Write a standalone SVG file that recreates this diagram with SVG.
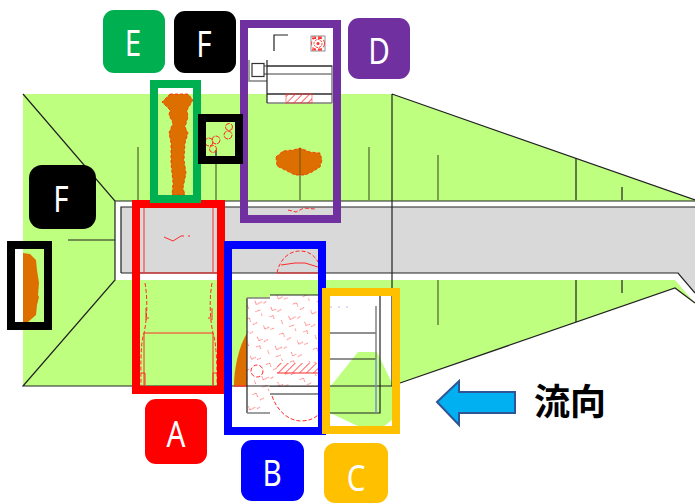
<svg xmlns="http://www.w3.org/2000/svg" width="695" height="503" viewBox="0 0 695 503">
<style>
.ln{fill:none;stroke:#222;stroke-width:1.2}
.gl{fill:none;stroke:#5c7a3c;stroke-width:1.4}
.gy{fill:none;stroke:#808080;stroke-width:1.5}
.rd{fill:none;stroke:#ff2a2a;stroke-width:1}
.rdd{fill:none;stroke:#ff2a2a;stroke-width:1;stroke-dasharray:4 2}
.org{fill:#dc6f00;stroke:#ff2a00;stroke-width:.8;stroke-dasharray:3 2}
.fr{fill:none;stroke-width:8}
.lb{font-family:"Noto Sans","DejaVu Sans",sans-serif;font-size:37px;fill:#fff;text-anchor:middle}
</style>
<defs>
<pattern id="vs" width="37" height="33" patternUnits="userSpaceOnUse" patternTransform="rotate(24)">
<path d="M2 5l3 3 3-3M13 3l-3 4M22 6l3 3 4-5M33 2l-2 3M5 15l3-3 2 3M17 13l3 3M27 16l4-4M35 17l-2-2M3 25l3 3 3-4M14 23l-3 3M21 27l3-3 3 3M33 25l-3 4" fill="none" stroke="#ff4b4b" stroke-width="1" opacity=".7"/>
</pattern>
<pattern id="hh" width="5" height="5" patternUnits="userSpaceOnUse" patternTransform="rotate(45)">
<path d="M0 0v5" stroke="#ff3b3b" stroke-width="1.6"/>
</pattern>
</defs>

<g id="site">
<path d="M23 94H392L695 200V201H115L23 94Z" fill="#bfff7f"/>
<path d="M23 94L115 201V280L23 386Z" fill="#bfff7f"/>
<path d="M115 280H675L695 303L675 288L400 383V386H23Z" fill="#bfff7f"/>
<path d="M330 296H392V386H330Z" fill="#fff"/>
<path d="M330 387L358 352H377L392 383V420L383 427H360L330 413Z" fill="#bfff7f"/>
<path d="M392 386H400V431H392Z" fill="#fff"/>
<path d="M115 201H695V293L678 280H115Z" fill="#fff"/>
<path d="M121 207H695V293L678 273H121Z" fill="#d9d9d9"/>
<path d="M226 386H330V434H226Z" fill="#fff"/>
</g>

<g id="lines">
<path class="ln" d="M23 94L115 201V280L23 386H330M115 201H695M121 273V207H695M121 273H678L695 293M68 240H115"/>
<path class="ln" d="M392 94V386H330M392 94L695 200M400 383L675 288L695 303"/>
<path class="gl" d="M138 147V200M216 150V200M300 148V200M369 147V200M438 155V200M438 280V325"/>
<path class="ln" d="M576 158V200M622 187V200M576 280V322M622 280V293"/>
<path class="ln" d="M330 333H376M330 359H376M330 413H380V295"/>
<path class="gy" d="M376 306V359"/>
<path d="M376 359V413" stroke="#6f8fd0" stroke-width="1.5" fill="none"/>
<path d="M330 307H350" stroke="#b8b8ff" stroke-dasharray="2 6" fill="none"/>
</g>

<g id="structure-d">
<rect x="267" y="60" width="65" height="43" fill="#fff"/>
<path class="ln" d="M274 51V35H288"/>
<rect x="311" y="36" width="14" height="15" fill="#fff" stroke="#777" stroke-width=".8"/>
<circle cx="318" cy="43.500" r="6.500" class="rdd"/><circle cx="318" cy="43.500" r="4" fill="none" stroke="#ff2a2a" stroke-dasharray="2 1"/><circle cx="318" cy="43.500" r="1.500" fill="#ff2a2a"/>
<path class="rdd" d="M312 37H324M312 38.500H324M312 49H324M312 50H324"/>
<path class="gy" d="M249 60V81H267M264 66H332V103M264 74H332M267 94H332M267 103H332"/>
<path class="ln" d="M267 60V103M267 66H332M267 94H332"/>
<rect x="252" y="63.500" width="12" height="13" fill="#fff" stroke="#333" stroke-width="1.2"/>
<rect x="286" y="94" width="26" height="9" fill="url(#hh)" stroke="#ff3b3b" stroke-width=".6"/>
<path class="org" d="M276 157L283 151L293 150L300 148L310 152L320 153L322 160L320 167L312 172L305 175L295 175L285 170L277 166Z"/>
<path d="M300 148V175" stroke="#8a5a10" stroke-width="1.400" fill="none"/>
<path class="rdd" d="M288 210L296 212L304 208L315 209"/>
</g>

<g id="structure-e">
<path class="org" d="M170 94H188L193 100L187 110L188 117L185 127L188 133L185 143L184 160L186 173L183 188L185 195H172L173 183L171 163L171 143L169 133L173 123L169 115L170 110L162 102Z"/>
</g>

<g id="structure-f">
<path d="M216 150V164" stroke="#555" stroke-width="1.400"/>
<circle cx="209" cy="142" r="4" fill="none" stroke="#ff2a2a" stroke-dasharray="5 1"/><circle cx="216" cy="140" r="4" fill="none" stroke="#ff2a2a" stroke-dasharray="5 1"/><circle cx="213" cy="149" r="3.500" fill="none" stroke="#ff2a2a" stroke-dasharray="5 1"/>
<circle cx="229" cy="127" r="3.500" fill="none" stroke="#ff2a2a" stroke-dasharray="5 1"/><circle cx="228" cy="135" r="4" fill="none" stroke="#ff2a2a" stroke-dasharray="5 1"/>
<path d="M23 253L30 254L36 260L37 270L39 283L38 295L39 297L37 305L36 315L28 322H23Z" fill="#dc6f00"/>
</g>

<g id="structure-a">
<path class="rd" d="M144 208V273M213 208V273M140 273H218M144 333H213M144 333V386M213 333V386M146 308V320M212 308V320"/>
<path class="rdd" d="M145 283C148 300 147 320 144 333C140 345 141 370 141 386M212 283C209 300 210 320 213 333C217 345 217 370 217 386"/>
<path class="rd" d="M164 237L173 241L181 236L184 236M188 236H190M141 373H145V386M217 373H213V386M146 318H149M211 318H208"/>
</g>

<g id="structure-b">
<path class="rdd" d="M277 273C280 258 290 251 300 251C309 251 315 256 318 262"/>
<path class="rd" d="M281 265L295 263L305 263L318 267M277 273H320"/>
<path d="M247 298H270V295H318V386H270V394V413H247Z" fill="#fff"/>
<path d="M247 298H270V295H318V386H270V413H247Z" fill="url(#vs)"/>
<path d="M270 394H318V420H272Z" fill="#fff"/>
<path d="M247 333C238 348 234 370 234 386H247Z" fill="#dc6f00"/>
<path d="M234 386H247" stroke="#ff2a2a" stroke-width="1.200"/>
<rect x="277" y="363" width="41" height="10" fill="#fff"/>
<rect x="277" y="363" width="41" height="10" fill="url(#hh)"/>
<path class="rd" d="M277 373H318"/>
<circle cx="257" cy="371" r="6" fill="#fff" stroke="#ff2a2a" stroke-dasharray="4 2"/>
<path class="rdd" d="M272 396C277 410 287 420 300 421C308 421 314 419 318 415"/>
<path class="ln" d="M247 298V413M270 295H318M247 386H330M270 394H318"/>
<path class="gy" d="M247 298H270M247 413H270"/>
</g>

<g id="frames">
<rect class="fr" x="136" y="204" width="85" height="186" stroke="#ff0000"/>
<rect class="fr" x="228" y="245" width="94" height="186" stroke="#0000ff"/>
<rect class="fr" x="326" y="292" width="70" height="138" stroke="#ffc000"/>
<rect class="fr" x="244" y="24" width="93" height="195" stroke="#7030a0"/>
<rect class="fr" x="154" y="84" width="43" height="115" stroke="#00b050"/>
<rect class="fr" x="202" y="118" width="37" height="42" stroke="#000"/>
<rect class="fr" x="11" y="245" width="37" height="81" stroke="#000"/>
</g>

<g id="label-e"><rect x="103" y="10" width="62" height="63" rx="11" fill="#00b050"/><text class="lb" transform="translate(133 56) scale(.8 1)">E</text></g>
<g id="label-f1"><rect x="174" y="11" width="62" height="62" rx="11" fill="#000"/><text class="lb" transform="translate(204 57) scale(.8 1)">F</text></g>
<g id="label-d"><rect x="348" y="18" width="62" height="61" rx="11" fill="#7030a0"/><text class="lb" transform="translate(379 64) scale(.8 1)">D</text></g>
<g id="label-f2"><rect x="29" y="165" width="67" height="64" rx="13" fill="#000"/><text class="lb" transform="translate(61 212) scale(.8 1)">F</text></g>
<g id="label-a"><rect x="145" y="399" width="62" height="65" rx="11" fill="#ff0000"/><text class="lb" transform="translate(176 447) scale(.8 1)">A</text></g>
<g id="label-b"><rect x="241" y="440" width="63" height="61" rx="11" fill="#0000ff"/><text class="lb" transform="translate(272 486) scale(.8 1)">B</text></g>
<g id="label-c"><rect x="324" y="443" width="64" height="60" rx="11" fill="#ffc000"/><text class="lb" transform="translate(356 491) scale(.8 1)">C</text></g>

<g id="flow">
<path d="M437 402L459 381V392H515V413H459V425Z" fill="#00b0f0" stroke="#2f5597" stroke-width="2"/>
<text x="534" y="415" font-family="'Noto Sans CJK JP','Noto Sans CJK SC',sans-serif" font-size="36" font-weight="700" fill="#000">流向</text>
</g>
</svg>
